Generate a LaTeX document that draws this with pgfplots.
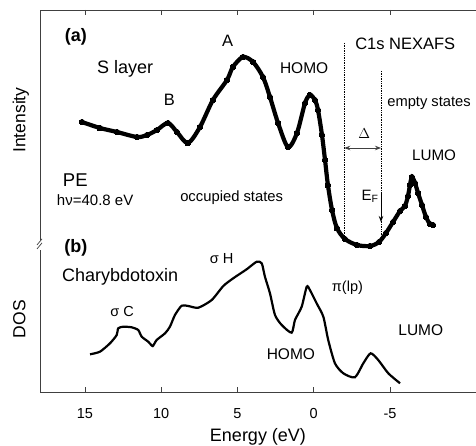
\documentclass[border=0pt]{standalone}
\usepackage{fontspec}
\setmainfont{Liberation Sans}
\usepackage{pgfplots}
\pgfplotsset{compat=1.18}
\usetikzlibrary{arrows.meta}
\newcommand{\fs}[1]{\fontsize{#1}{#1}\selectfont}

\begin{document}
\begin{tikzpicture}
\begin{axis}[
  at={(40pt,53pt)}, anchor=south west,
  width=436pt, height=382pt, scale only axis,
  x dir=reverse, xmin=-10.64, xmax=17.95,
  ymin=0, ymax=382,
  axis x line*=box, axis y line*=left,
  ytick=\empty, xtick={15,10,5,0,-5},
  tick align=inside, major tick length=5pt,
  /pgf/number format/assume math mode=true,
  xticklabel style={font=\fs{14.5}, anchor=base, yshift=-26pt},
  axis line style={line width=0.8pt, black!75},
  tick style={line width=0.8pt, black!75},
  xlabel={Energy (eV)},
  xlabel style={font=\fs{18}, at={(axis description cs:0.5,0)}, anchor=base, yshift=-49pt},
  clip=false,
]
% (a) PE spectrum and NEXAFS
\addplot[black, line width=4.2pt, smooth, tension=0.5, mark=*, mark size=2.8pt,
  mark options={line width=0pt}] coordinates {
(15.20,270) (14.02,264) (12.90,260) (11.59,255) (10.93,257) (10.28,262) (9.56,269)
(8.97,260) (8.25,249) (7.46,265) (6.61,292) (5.69,312) (5.30,325) (4.64,335)
(3.98,330) (3.33,315) (2.87,295) (2.34,269) (1.69,245) (1.10,259) (0.57,289)
(0.25,297) (-0.08,292) (-0.28,282) (-0.54,257) (-0.74,232) (-0.93,207) (-1.20,182)
(-1.52,164) (-2.05,153) (-2.84,147) (-3.69,146) (-4.28,150) (-4.74,159) (-5.20,170)
(-5.66,181) (-5.98,186) (-6.18,196) (-6.31,207) (-6.44,215) (-6.64,209) (-6.84,199)
(-7.10,187) (-7.36,175) (-7.62,168) (-7.82,167)
};
% (b) DOS
\addplot[black, line width=2.2pt, smooth, tension=0.4] coordinates {
(14.67,37.7) (14.02,40.3) (13.36,48.7) (12.92,57) (12.82,63.7) (12.49,65.3)
(11.94,64.7) (11.51,62) (11.28,55.3) (10.85,50.3) (10.56,46) (10.30,52)
(9.75,58.7) (9.43,65.3) (9.10,77) (8.66,86.3) (8.23,86) (7.57,84.3) (6.69,92)
(5.93,106) (5.28,113.7) (4.40,122.7) (3.74,130.3) (3.41,128.7) (3.20,115.3)
(2.87,98.7) (2.54,77) (2.10,67) (1.45,59.3) (1.23,72) (0.79,85.3) (0.46,105.3)
(0.25,102) (-0.19,88.7) (-0.63,75.3) (-0.95,52) (-1.39,28.7) (-1.94,18.7)
(-2.70,14.7) (-3.25,28.7) (-3.73,38.7) (-4.23,32) (-4.89,18.7) (-5.66,8.7)
};
% dotted guides, gap and Fermi level
\draw[densely dotted, line width=0.7pt] (axis cs:-2.00,349) -- (axis cs:-2.00,155);
\draw[densely dotted, line width=0.7pt] (axis cs:-4.41,321) -- (axis cs:-4.41,155);
\draw[black!75, line width=0.9pt, {Stealth[length=6pt]}-{Stealth[length=6pt]}] (axis cs:-2.00,244) -- (axis cs:-4.41,244);
\draw[black, line width=0.8pt, -{Stealth[length=6pt]}] (axis cs:-4.41,199) -- (axis cs:-4.41,170);
% axis break
\fill[white] (axis description cs:0,0.385) ++(-2pt,-5pt) rectangle ++(4pt,10pt);
\draw[black!75, line width=0.7pt] (axis description cs:0,0.385) ++(-3pt,-4pt) -- ++(5pt,6pt);
\draw[black!75, line width=0.7pt] (axis description cs:0,0.385) ++(-3pt,0pt) -- ++(5pt,6pt);
% y labels
\node[rotate=90, anchor=base, font=\fs{17.5}] at ([xshift=-14.5pt]axis description cs:0,0.712) {Intensity};
\node[rotate=90, anchor=base, font=\fs{17.5}] at ([xshift=-14.5pt]axis description cs:0,0.191) {DOS};
% panel (a) labels
\node[anchor=base, font=\fs{18}\bfseries] at (axis cs:15.59,350.3) {(a)};
\node[anchor=base, font=\fs{16.5}] at (axis cs:5.64,345.3) {A};
\node[anchor=base, font=\fs{16.5}] at (axis cs:-6.0,342) {C1s NEXAFS};
\node[anchor=base, font=\fs{18}] at (axis cs:12.36,318) {S layer};
\node[anchor=base, font=\fs{15.5}] at (axis cs:0.63,318) {HOMO};
\node[anchor=base, font=\fs{16.5}] at (axis cs:9.47,286.7) {B};
\node[anchor=base, font=\fs{14.7}] at (axis cs:-7.56,285.3) {empty states};
\node[anchor=base, font=\fs{15.5}] at (axis cs:-3.31,254) {$\Delta$};
\node[anchor=base, font=\fs{15.2}] at (axis cs:-7.89,231.3) {LUMO};
\node[anchor=base west, font=\fs{18.5}, inner sep=0pt] at (axis cs:16.46,205.3) {PE};
\node[anchor=base west, font=\fs{15}, inner sep=0pt] at (axis cs:16.85,187) {hν=40.8 eV};
\node[anchor=base, font=\fs{14.8}] at (axis cs:5.38,191) {occupied states};
\node[anchor=base east, font=\fs{15}, inner sep=1pt] at (axis cs:-4.33,192) {E\textsubscript{F}};
% panel (b) labels
\node[anchor=base, font=\fs{18}\bfseries] at (axis cs:15.59,139.3) {(b)};
\node[anchor=base, font=\fs{14.6}] at (axis cs:6.04,128.7) {σ H};
\node[anchor=base, font=\fs{18}] at (axis cs:12.70,111) {Charybdotoxin};
\node[anchor=base, font=\fs{14.5}] at (axis cs:-2.21,100.3) {π(lp)};
\node[anchor=base, font=\fs{14.5}] at (axis cs:12.56,75.3) {σ C};
\node[anchor=base, font=\fs{15.5}] at (axis cs:-7.02,57) {LUMO};
\node[anchor=base, font=\fs{15.5}] at (axis cs:1.50,32.7) {HOMO};
\end{axis}
\pgfresetboundingbox
\useasboundingbox (0,0) rectangle (476pt,445pt);
\end{tikzpicture}
\end{document}
